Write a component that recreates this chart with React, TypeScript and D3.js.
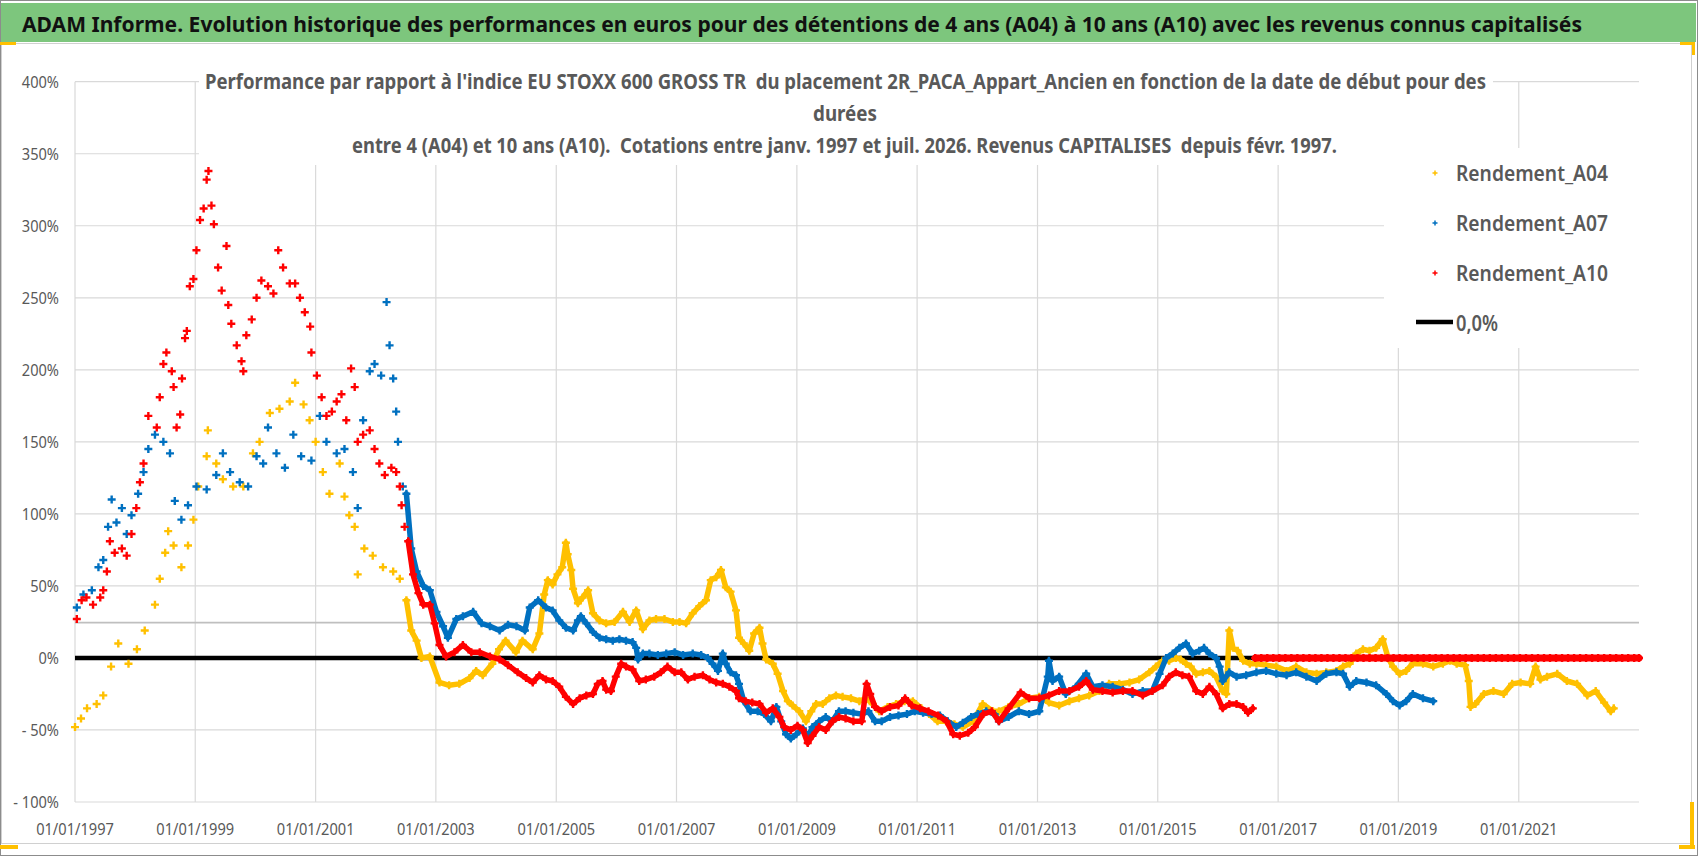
import { useEffect, useRef } from "react";
import * as d3 from "d3";

/**
 * ADAM Informe — relative performance vs EU STOXX 600 GROSS TR,
 * scatter of "+" markers for 4, 7 and 10 year holding periods.
 */

const W = 1698;
const H = 856;

const FONT = "'Noto Sans', 'Liberation Sans', sans-serif";
const GREY_TEXT = "#595959";
const GRID = "#d9d9d9";

const TITLE =
  "ADAM Informe. Evolution historique des performances en euros pour des détentions de 4 ans (A04) à 10 ans (A10) avec les revenus connus capitalisés";
const SUBTITLE_1 =
  "Performance par rapport à l'indice EU STOXX 600 GROSS TR  du placement 2R_PACA_Appart_Ancien en fonction de la date de début pour des";
const SUBTITLE_2 = "durées";
const SUBTITLE_3 =
  "entre 4 (A04) et 10 ans (A10).  Cotations entre janv. 1997 et juil. 2026. Revenus CAPITALISES  depuis févr. 1997.";

// x axis: first of January every two years
const YEAR_TICKS = [1997, 1999, 2001, 2003, 2005, 2007, 2009, 2011, 2013, 2015, 2017, 2019, 2021];
const X_START = 1997;
const X_END = 2023;
// y axis in percent
const Y_TICKS = [-100, -50, 0, 50, 100, 150, 200, 250, 300, 350, 400];
const ZERO_LEVEL = 0;
const REF_LEVEL = 24.5;

// [decimal year, performance %]
const A04: [number, number][] = [
  [1997.0, -48], [1997.1, -42], [1997.2, -35], [1997.36, -32], [1997.47, -26], [1997.6, -6], [1997.72, 10],
  [1997.89, -4], [1998.03, 6], [1998.16, 19], [1998.33, 37], [1998.41, 55], [1998.5, 73], [1998.55, 88],
  [1998.64, 78], [1998.77, 63], [1998.88, 78], [1998.97, 96], [1999.05, 119], [1999.19, 140], [1999.21, 158],
  [1999.35, 135], [1999.46, 124], [1999.63, 119], [1999.8, 119], [1999.96, 142], [2000.07, 150], [2000.24, 170],
  [2000.4, 173], [2000.57, 178], [2000.66, 191], [2000.8, 176], [2000.9, 165], [2001.0, 150], [2001.12, 129],
  [2001.23, 114], [2001.4, 135], [2001.48, 112], [2001.56, 99], [2001.65, 91], [2001.7, 58], [2001.81, 76],
  [2001.95, 71], [2002.12, 63], [2002.29, 60], [2002.4, 55], [2002.51, 40], [2002.59, 19], [2002.68, 12],
  [2002.76, 0], [2002.9, 1], [2003.06, -17], [2003.22, -19], [2003.39, -18], [2003.56, -14], [2003.67, -9],
  [2003.78, -12], [2003.94, -4], [2004.05, 6], [2004.16, 12], [2004.33, 4], [2004.44, 12], [2004.61, 6],
  [2004.72, 17], [2004.8, 44], [2004.86, 54], [2004.94, 51], [2005.02, 58], [2005.1, 63], [2005.16, 80],
  [2005.19, 72], [2005.25, 61], [2005.28, 48], [2005.36, 38], [2005.44, 42], [2005.53, 47], [2005.61, 31],
  [2005.72, 26], [2005.83, 24], [2005.97, 25], [2006.11, 32], [2006.22, 25], [2006.33, 33], [2006.44, 20],
  [2006.55, 26], [2006.66, 27], [2006.8, 27], [2006.94, 25], [2007.05, 25], [2007.16, 24], [2007.27, 31],
  [2007.38, 36], [2007.49, 40], [2007.57, 54], [2007.66, 56], [2007.74, 61], [2007.82, 49], [2007.9, 46],
  [2007.99, 33], [2008.04, 14], [2008.12, 10], [2008.21, 5], [2008.29, 17], [2008.38, 21], [2008.43, 10],
  [2008.49, -1], [2008.6, -4], [2008.68, -11], [2008.77, -23], [2008.85, -30], [2008.93, -33], [2009.04, -37],
  [2009.15, -44], [2009.24, -37], [2009.32, -32], [2009.43, -32], [2009.54, -28], [2009.65, -26], [2009.76, -27],
  [2009.9, -28], [2010.04, -30], [2010.15, -28], [2010.26, -32], [2010.37, -37], [2010.51, -34], [2010.65, -32],
  [2010.79, -30], [2010.93, -30], [2011.07, -35], [2011.2, -39], [2011.34, -44], [2011.48, -44], [2011.62, -46],
  [2011.76, -48], [2011.93, -44], [2012.09, -32], [2012.26, -37], [2012.36, -37], [2012.52, -34], [2012.69, -32],
  [2012.86, -28], [2013.03, -27], [2013.19, -31], [2013.36, -33], [2013.53, -30], [2013.69, -28], [2013.86, -26],
  [2014.03, -23], [2014.19, -18], [2014.36, -18], [2014.53, -17], [2014.69, -15], [2014.86, -10], [2014.97, -6],
  [2015.08, -2], [2015.19, -2], [2015.3, 0], [2015.38, -1], [2015.47, -4], [2015.55, -6], [2015.64, -11],
  [2015.75, -10], [2015.86, -9], [2015.97, -13], [2016.08, -23], [2016.14, -25], [2016.19, 19], [2016.25, 7],
  [2016.33, 5], [2016.42, -2], [2016.53, -4], [2016.64, -4], [2016.8, -5], [2016.97, -6], [2017.14, -9],
  [2017.3, -6], [2017.47, -10], [2017.64, -11], [2017.8, -10], [2017.97, -9], [2018.08, -6], [2018.19, -4],
  [2018.3, 3], [2018.41, 6], [2018.52, 5], [2018.63, 7], [2018.74, 13], [2018.83, 0], [2018.91, -6],
  [2019.02, -11], [2019.13, -9], [2019.24, -4], [2019.41, -4], [2019.58, -6], [2019.74, -4], [2019.86, -2],
  [2019.97, -4], [2020.11, -5], [2020.17, -16], [2020.2, -34], [2020.28, -32], [2020.42, -25], [2020.58, -23],
  [2020.75, -25], [2020.89, -18], [2021.03, -17], [2021.19, -18], [2021.28, -6], [2021.36, -15], [2021.47, -13],
  [2021.64, -11], [2021.8, -16], [2021.97, -18], [2022.14, -26], [2022.28, -23], [2022.42, -31], [2022.53, -37],
  [2022.58, -35],
];

const A07: [number, number][] = [
  [1997.03, 35], [1997.14, 44], [1997.28, 47], [1997.39, 63], [1997.47, 68], [1997.55, 91], [1997.61, 110],
  [1997.69, 94], [1997.78, 104], [1997.86, 86], [1997.94, 99], [1998.05, 114], [1998.14, 129], [1998.22, 145],
  [1998.33, 155], [1998.47, 150], [1998.58, 142], [1998.66, 109], [1998.77, 96], [1998.88, 106], [1999.02, 119],
  [1999.19, 117], [1999.35, 127], [1999.46, 142], [1999.58, 129], [1999.74, 122], [1999.88, 119], [2000.02, 140],
  [2000.13, 135], [2000.21, 160], [2000.35, 142], [2000.49, 132], [2000.63, 155], [2000.76, 140], [2000.93, 137],
  [2001.07, 168], [2001.18, 150], [2001.35, 142], [2001.48, 145], [2001.62, 129], [2001.7, 104], [2001.79, 165],
  [2001.9, 199], [2001.98, 204], [2002.09, 196], [2002.18, 247], [2002.23, 217], [2002.29, 194], [2002.34, 171],
  [2002.37, 150], [2002.45, 119], [2002.51, 114], [2002.59, 76], [2002.68, 60], [2002.79, 50], [2002.9, 47],
  [2003.01, 32], [2003.12, 22], [2003.2, 14], [2003.34, 27], [2003.45, 29], [2003.62, 32], [2003.76, 24],
  [2003.9, 22], [2004.06, 19], [2004.2, 23], [2004.34, 22], [2004.48, 19], [2004.56, 35], [2004.7, 40],
  [2004.83, 35], [2004.94, 33], [2005.05, 26], [2005.16, 21], [2005.28, 19], [2005.36, 26], [2005.41, 29],
  [2005.5, 24], [2005.61, 18], [2005.72, 14], [2005.83, 13], [2005.94, 12], [2006.05, 13], [2006.16, 12],
  [2006.27, 11], [2006.33, 7], [2006.36, -1], [2006.44, 3], [2006.55, 3], [2006.69, 2], [2006.83, 3],
  [2006.97, 4], [2007.11, 2], [2007.27, 3], [2007.41, 2], [2007.52, 0], [2007.6, -4], [2007.69, -9],
  [2007.77, 3], [2007.82, -4], [2007.9, -10], [2007.99, -12], [2008.04, -18], [2008.12, -30], [2008.23, -37],
  [2008.35, -37], [2008.46, -39], [2008.57, -44], [2008.66, -34], [2008.74, -44], [2008.82, -53], [2008.9, -56],
  [2008.99, -53], [2009.1, -49], [2009.18, -55], [2009.26, -48], [2009.37, -44], [2009.48, -41], [2009.59, -44],
  [2009.7, -37], [2009.81, -37], [2009.94, -38], [2010.08, -39], [2010.19, -37], [2010.3, -44], [2010.41, -44],
  [2010.55, -41], [2010.69, -40], [2010.83, -39], [2010.96, -37], [2011.1, -38], [2011.24, -39], [2011.38, -40],
  [2011.51, -44], [2011.65, -48], [2011.76, -45], [2011.9, -41], [2012.01, -39], [2012.15, -37], [2012.29, -39],
  [2012.36, -44], [2012.52, -41], [2012.69, -37], [2012.86, -39], [2013.03, -37], [2013.17, -13], [2013.19, -2],
  [2013.25, -16], [2013.36, -13], [2013.47, -25], [2013.64, -20], [2013.81, -11], [2013.92, -20], [2014.08, -19],
  [2014.25, -20], [2014.42, -22], [2014.58, -25], [2014.75, -23], [2014.91, -23], [2015.03, -11], [2015.14, 0],
  [2015.25, 3], [2015.36, 7], [2015.47, 10], [2015.58, 3], [2015.69, 5], [2015.77, 7], [2015.86, 3],
  [2015.97, 0], [2016.03, -6], [2016.08, -16], [2016.19, -10], [2016.31, -13], [2016.47, -12], [2016.64, -10],
  [2016.8, -9], [2016.97, -11], [2017.14, -12], [2017.3, -10], [2017.47, -13], [2017.64, -16], [2017.8, -11],
  [2017.97, -10], [2018.08, -11], [2018.19, -20], [2018.3, -16], [2018.47, -17], [2018.63, -19], [2018.8, -25],
  [2018.91, -30], [2019.02, -33], [2019.13, -30], [2019.24, -25], [2019.41, -28], [2019.58, -30],
];

const A10: [number, number][] = [
  [1997.03, 27], [1997.11, 40], [1997.19, 42], [1997.3, 37], [1997.42, 42], [1997.47, 47], [1997.53, 60],
  [1997.58, 81], [1997.66, 73], [1997.78, 76], [1997.86, 71], [1997.94, 86], [1998.02, 104], [1998.08, 122],
  [1998.14, 135], [1998.22, 168], [1998.36, 160], [1998.41, 181], [1998.47, 204], [1998.52, 212], [1998.61, 199],
  [1998.64, 188], [1998.69, 160], [1998.75, 169], [1998.78, 194], [1998.83, 222], [1998.86, 227], [1998.91, 258],
  [1998.97, 263], [1999.02, 283], [1999.08, 304], [1999.14, 312], [1999.19, 332], [1999.22, 338], [1999.27, 314],
  [1999.31, 301], [1999.38, 271], [1999.44, 255], [1999.52, 286], [1999.55, 245], [1999.6, 232], [1999.69, 217],
  [1999.77, 206], [1999.8, 199], [1999.85, 224], [1999.94, 235], [2000.02, 250], [2000.1, 262], [2000.21, 258],
  [2000.3, 253], [2000.38, 283], [2000.46, 271], [2000.57, 260], [2000.66, 260], [2000.74, 250], [2000.82, 240],
  [2000.91, 230], [2000.93, 212], [2001.02, 196], [2001.1, 181], [2001.18, 168], [2001.27, 171], [2001.35, 178],
  [2001.43, 183], [2001.51, 165], [2001.59, 201], [2001.65, 188], [2001.7, 150], [2001.79, 155], [2001.9, 158],
  [2001.98, 145], [2002.06, 135], [2002.15, 127], [2002.26, 132], [2002.34, 129], [2002.4, 119], [2002.43, 106],
  [2002.48, 91], [2002.54, 81], [2002.62, 58], [2002.71, 45], [2002.79, 37], [2002.9, 37], [2002.98, 24],
  [2003.06, 9], [2003.17, 1], [2003.31, 4], [2003.45, 9], [2003.59, 4], [2003.73, 4], [2003.9, 1],
  [2004.06, -1], [2004.2, -5], [2004.36, -10], [2004.5, -14], [2004.61, -17], [2004.72, -12], [2004.83, -15],
  [2004.94, -16], [2005.05, -20], [2005.16, -27], [2005.28, -32], [2005.39, -28], [2005.5, -26], [2005.61, -25],
  [2005.69, -18], [2005.77, -16], [2005.83, -22], [2005.91, -23], [2005.99, -13], [2006.08, -4], [2006.16, -6],
  [2006.27, -8], [2006.38, -16], [2006.49, -15], [2006.63, -13], [2006.74, -10], [2006.85, -6], [2006.97, -10],
  [2007.08, -10], [2007.19, -15], [2007.3, -13], [2007.44, -12], [2007.55, -15], [2007.66, -17], [2007.77, -18],
  [2007.88, -20], [2007.99, -23], [2008.04, -28], [2008.15, -30], [2008.26, -31], [2008.38, -32], [2008.49, -38],
  [2008.6, -35], [2008.71, -41], [2008.79, -48], [2008.9, -50], [2009.01, -47], [2009.1, -50], [2009.18, -59],
  [2009.26, -54], [2009.37, -48], [2009.48, -50], [2009.59, -44], [2009.7, -41], [2009.81, -42], [2009.94, -44],
  [2010.08, -44], [2010.16, -18], [2010.22, -25], [2010.3, -34], [2010.41, -37], [2010.55, -34], [2010.69, -33],
  [2010.8, -28], [2010.91, -33], [2011.05, -35], [2011.19, -37], [2011.35, -40], [2011.49, -44], [2011.6, -53],
  [2011.71, -54], [2011.85, -52], [2011.96, -48], [2012.1, -39], [2012.24, -37], [2012.36, -44], [2012.52, -35],
  [2012.72, -24], [2012.86, -28], [2013.03, -28], [2013.19, -26], [2013.36, -23], [2013.53, -23], [2013.69, -20],
  [2013.81, -16], [2013.92, -22], [2014.08, -23], [2014.25, -24], [2014.42, -23], [2014.58, -23], [2014.75, -26],
  [2014.91, -23], [2015.08, -19], [2015.19, -13], [2015.3, -10], [2015.41, -12], [2015.52, -13], [2015.64, -23],
  [2015.75, -25], [2015.86, -20], [2015.97, -25], [2016.08, -35], [2016.19, -32], [2016.31, -32], [2016.42, -34],
  [2016.5, -38], [2016.58, -35],
];

// start dates whose 10-year result is not known yet: plotted at 0
const A10_PENDING: [number, number][] = [
  [2016.62, 0], [2016.72, 0], [2016.82, 0], [2016.92, 0], [2017.02, 0], [2017.12, 0], [2017.22, 0], [2017.32, 0],
  [2017.42, 0], [2017.52, 0], [2017.62, 0], [2017.72, 0], [2017.82, 0], [2017.92, 0], [2018.02, 0], [2018.12, 0],
  [2018.22, 0], [2018.32, 0], [2018.42, 0], [2018.52, 0], [2018.62, 0], [2018.72, 0], [2018.82, 0], [2018.92, 0],
  [2019.02, 0], [2019.12, 0], [2019.22, 0], [2019.32, 0], [2019.42, 0], [2019.52, 0], [2019.62, 0], [2019.72, 0],
  [2019.82, 0], [2019.92, 0], [2020.02, 0], [2020.12, 0], [2020.22, 0], [2020.32, 0], [2020.42, 0], [2020.52, 0],
  [2020.62, 0], [2020.72, 0], [2020.82, 0], [2020.92, 0], [2021.02, 0], [2021.12, 0], [2021.22, 0], [2021.32, 0],
  [2021.42, 0], [2021.52, 0], [2021.62, 0], [2021.72, 0], [2021.82, 0], [2021.92, 0], [2022.02, 0], [2022.12, 0],
  [2022.22, 0], [2022.32, 0], [2022.42, 0], [2022.52, 0], [2022.62, 0], [2022.72, 0], [2022.82, 0], [2022.92, 0],
  [2023.0, 0],
];

const SERIES = [
  { name: "Rendement_A04", color: "#ffc000", parts: [A04] },
  { name: "Rendement_A07", color: "#0070c0", parts: [A07] },
  { name: "Rendement_A10", color: "#ff0000", parts: [A10, A10_PENDING] },
];

// quotes get daily after this date: markers merge into a band
const DENSE_FROM = 2002.5;

const PLUS = "M-4,0H4M0,-4V4";

function yearToDate(y: number) {
  const yr = Math.floor(y);
  const a = Date.UTC(yr, 0, 1);
  const b = Date.UTC(yr + 1, 0, 1);
  return new Date(a + (y - yr) * (b - a));
}

export default function App() {
  const svgRef = useRef<SVGSVGElement>(null);

  useEffect(() => {
    if (!svgRef.current) return;
    const svg = d3.select(svgRef.current);
    svg.selectAll("*").remove();

    const x = d3
      .scaleUtc()
      .domain([yearToDate(X_START), yearToDate(X_END)])
      .range([75, 1639]);
    const y = d3.scaleLinear().domain([-100, 400]).range([802, 81.7]);
    const [x0, x1] = x.range();
    const fmt = d3.utcFormat("%d/%m/%Y");

    // frame + header bar
    svg.append("rect").attr("width", W).attr("height", H).attr("fill", "#fff");
    svg.append("rect").attr("x", 1).attr("y", 3).attr("width", 1695).attr("height", 39).attr("fill", "#7dc67d");
    svg
      .append("rect")
      .attr("x", 1.5).attr("y", 43.5).attr("width", 1690).attr("height", 800)
      .attr("fill", "none").attr("stroke", "#d0d0d0");
    svg
      .append("rect")
      .attr("x", 0.5).attr("y", 0.5).attr("width", W - 1).attr("height", H - 1)
      .attr("fill", "none").attr("stroke", "#8c8c8c");

    svg
      .append("text")
      .attr("x", 22).attr("y", 32)
      .attr("font-family", FONT).attr("font-weight", 700).attr("font-size", 22)
      .attr("fill", "#111")
      .attr("textLength", 1560).attr("lengthAdjust", "spacingAndGlyphs")
      .text(TITLE);

    // gridlines
    const grid = svg.append("g");
    grid
      .selectAll("line.h")
      .data(Y_TICKS)
      .join("line")
      .attr("x1", x0).attr("x2", x1)
      .attr("y1", (d) => y(d)).attr("y2", (d) => y(d))
      .attr("stroke", GRID).attr("stroke-width", 1.2);
    grid
      .selectAll("line.v")
      .data(YEAR_TICKS)
      .join("line")
      .attr("x1", (d) => x(yearToDate(d))).attr("x2", (d) => x(yearToDate(d)))
      .attr("y1", y(400)).attr("y2", y(-100))
      .attr("stroke", GRID).attr("stroke-width", 1.2);
    grid
      .append("line")
      .attr("x1", x0).attr("x2", x1)
      .attr("y1", y(REF_LEVEL)).attr("y2", y(REF_LEVEL))
      .attr("stroke", "#bfbfbf").attr("stroke-width", 1.6);

    // title and legend boxes hide the gridlines behind them
    svg.append("rect").attr("x", 199).attr("y", 60).attr("width", 1294).attr("height", 105).attr("fill", "#fff");
    svg.append("rect").attr("x", 1384).attr("y", 148).attr("width", 262).attr("height", 200).attr("fill", "#fff");

    // axis labels
    svg
      .append("g")
      .selectAll("text")
      .data(Y_TICKS)
      .join("text")
      .attr("transform", (d) => `translate(59,${y(d)}) scale(0.86,1)`)
      .attr("dy", "0.36em")
      .attr("text-anchor", "end")
      .attr("font-family", FONT).attr("font-size", 17).attr("fill", GREY_TEXT)
      .style("white-space", "pre")
      .text((d) => (d < 0 ? `- ${Math.abs(d)}%` : `${d}%`));
    svg
      .append("g")
      .selectAll("text")
      .data(YEAR_TICKS)
      .join("text")
      .attr("transform", (d) => `translate(${x(yearToDate(d))},835) scale(0.86,1)`)
      .attr("text-anchor", "middle")
      .attr("font-family", FONT).attr("font-size", 17).attr("fill", GREY_TEXT)
      .text((d) => fmt(yearToDate(d)));

    // chart title
    const sub = [
      { t: SUBTITLE_1, x: 205, y: 89, w: 1281 },
      { t: SUBTITLE_2, x: 813, y: 121, w: 64 },
      { t: SUBTITLE_3, x: 352, y: 153, w: 985 },
    ];
    svg
      .append("g")
      .selectAll("text")
      .data(sub)
      .join("text")
      .attr("x", (d) => d.x).attr("y", (d) => d.y)
      .attr("font-family", FONT).attr("font-weight", 700).attr("font-size", 21)
      .attr("fill", GREY_TEXT)
      .attr("textLength", (d) => d.w).attr("lengthAdjust", "spacingAndGlyphs")
      .style("white-space", "pre")
      .text((d) => d.t);

    // 0,0% line
    svg
      .append("line")
      .attr("x1", x0).attr("x2", x1)
      .attr("y1", y(ZERO_LEVEL)).attr("y2", y(ZERO_LEVEL))
      .attr("stroke", "#000").attr("stroke-width", 4.5);

    // series
    const band = d3
      .line<[number, number]>()
      .x((d) => x(yearToDate(d[0])))
      .y((d) => y(d[1]));

    SERIES.forEach((s) => {
      const g = svg.append("g");
      s.parts.forEach((part, pi) => {
        g.append("path")
          .datum(part.filter((d) => d[0] >= DENSE_FROM))
          .attr("d", band)
          .attr("fill", "none")
          .attr("stroke", s.color)
          .attr("stroke-width", pi === 0 ? 5.5 : 7)
          .attr("stroke-linejoin", "round")
          .attr("stroke-linecap", "round");
        g.append("g")
          .selectAll("path")
          .data(part)
          .join("path")
          .attr("d", PLUS)
          .attr("transform", (d) => `translate(${x(yearToDate(d[0]))},${y(d[1])})`)
          .attr("fill", "none")
          .attr("stroke", s.color)
          .attr("stroke-width", 2.4);
      });
    });

    // legend
    const leg = svg.append("g");
    SERIES.forEach((s, i) => {
      const cy = 173 + i * 50;
      leg.append("path")
        .attr("d", "M-2.5,0H2.5M0,-2.5V2.5")
        .attr("transform", `translate(1435,${cy})`)
        .attr("stroke", s.color).attr("stroke-width", 1.5);
      leg.append("text")
        .attr("x", 1456).attr("y", cy + 8)
        .attr("font-family", FONT).attr("font-weight", 600).attr("font-size", 22)
        .attr("fill", GREY_TEXT)
        .attr("textLength", 152).attr("lengthAdjust", "spacingAndGlyphs")
        .text(s.name);
    });
    leg.append("line")
      .attr("x1", 1416).attr("x2", 1453).attr("y1", 322).attr("y2", 322)
      .attr("stroke", "#000").attr("stroke-width", 4.5);
    leg.append("text")
      .attr("x", 1456).attr("y", 331)
      .attr("font-family", FONT).attr("font-weight", 600).attr("font-size", 22)
      .attr("fill", GREY_TEXT)
      .attr("textLength", 42).attr("lengthAdjust", "spacingAndGlyphs")
      .text("0,0%");

    // selection handles (yellow corners)
    const handles = [
      [0, 42, 16, 3], [1680, 42, 15, 3], [1692, 42, 3, 13],
      [1690, 802, 4, 47], [1679, 845, 16, 4], [0, 845, 18, 4],
    ];
    svg
      .append("g")
      .selectAll("rect")
      .data(handles)
      .join("rect")
      .attr("x", (d) => d[0]).attr("y", (d) => d[1])
      .attr("width", (d) => d[2]).attr("height", (d) => d[3])
      .attr("fill", "#ffc000");
  }, []);

  return (
    <svg
      ref={svgRef}
      width={W}
      height={H}
      style={{ position: "absolute", left: 0, top: 0, display: "block" }}
    />
  );
}
